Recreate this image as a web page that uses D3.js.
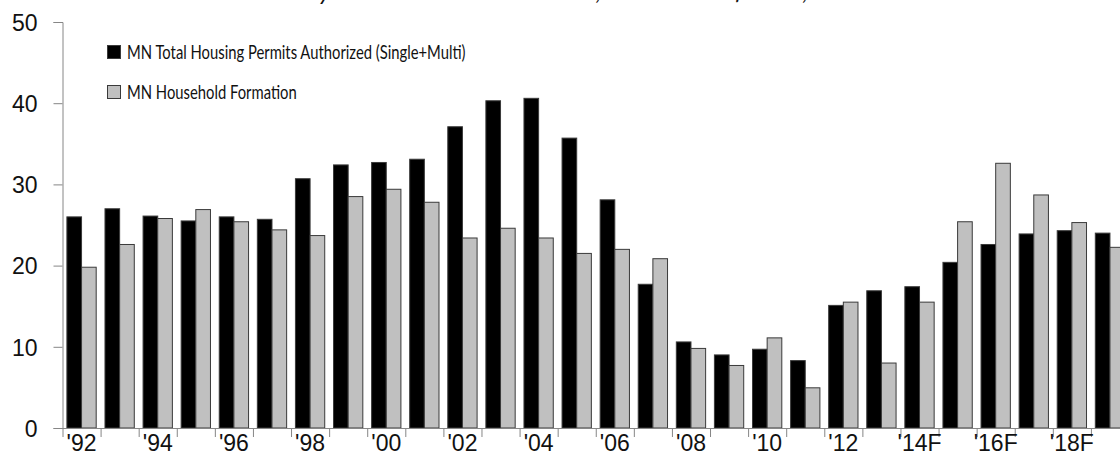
<!DOCTYPE html>
<html>
<head>
<meta charset="utf-8">
<script src="https://cdn.jsdelivr.net/npm/d3@7"></script>
<style>
  html, body { margin: 0; padding: 0; background: #fff; overflow: hidden; }
  svg { display: block; font-family: Lato, "Open Sans", sans-serif; }
  .axis path, .axis line { stroke: #868686; }
  .axis text { fill: #111; font-size: 23px; }
</style>
</head>
<body>
<div id="chart"></div>
<script>
// years 1992..2019, forecast from 2014 on
var years = ['1992','1993','1994','1995','1996','1997','1998','1999','2000','2001',
  '2002','2003','2004','2005','2006','2007','2008','2009','2010','2011',
  '2012','2013','2014','2015','2016','2017','2018','2019'];
var tickLabels = ["'92","","'94","","'96","","'98","","'00","",
  "'02","","'04","","'06","","'08","","'10","",
  "'12","","'14F","","'16F","","'18F",""];
var permits = [26.0, 27.0, 26.1, 25.5, 26.0, 25.7, 30.7, 32.4, 32.7, 33.1,
  37.1, 40.3, 40.6, 35.7, 28.1, 17.7, 10.6, 9.0, 9.7, 8.3,
  15.1, 16.9, 17.4, 20.4, 22.6, 23.9, 24.3, 24.0];
var households = [19.8, 22.6, 25.8, 26.9, 25.4, 24.4, 23.7, 28.5, 29.4, 27.8,
  23.4, 24.6, 23.4, 21.5, 22.0, 20.85, 9.8, 7.7, 11.1, 4.95,
  15.5, 8.0, 15.5, 25.4, 32.6, 28.7, 25.3, 22.25];
var seriesNames = ['MN Total Housing Permits Authorized (Single+Multi)', 'MN Household Formation'];
var seriesColors = ['#000000', '#c0c0c0'];
var yTicks = [0, 10, 20, 30, 40, 50];
var titleText = 'History and 2014-2019 Forecast, Thousands of Units, Minnesota';

var width = 1120, height = 473;
var margin = { top: 22, right: -9, bottom: 45, left: 62.5 };

var svg = d3.select('#chart').append('svg')
  .attr('width', width)
  .attr('height', height);

// stretch/squeeze Lato so it runs as wide as the original Calibri
function condense(sel, factor) {
  sel.each(function() {
    var len = this.getComputedTextLength();
    d3.select(this).attr('textLength', len * factor).attr('lengthAdjust', 'spacingAndGlyphs');
  });
}

var x0 = d3.scaleBand()
  .domain(years)
  .range([margin.left, width - margin.right])
  .paddingInner(0).paddingOuter(0);

var x1 = d3.scaleBand()
  .domain([0, 1])
  .range([0, x0.bandwidth()])
  .paddingInner(0).paddingOuter(0.3);

var xIdx = d3.scaleLinear()
  .domain([0, years.length])
  .range(x0.range());

var y = d3.scaleLinear()
  .domain([0, 50])
  .range([height - margin.bottom, margin.top]);

// title, mostly above the visible area as in the source image
svg.append('text')
  .attr('x', 589)
  .attr('y', -0.5)
  .attr('text-anchor', 'middle')
  .style('font-style', 'italic')
  .attr('font-size', 22)
  .attr('fill', '#111')
  .text(titleText)
  .call(condense, 1.12);

// bars
var rows = years.map(function(yr, i) { return { year: yr, vals: [permits[i], households[i]] }; });

var groups = svg.append('g').selectAll('g')
  .data(rows)
  .enter().append('g')
  .attr('transform', function(d) { return 'translate(' + x0(d.year) + ',0)'; });

groups.selectAll('rect')
  .data(function(d) { return d.vals.map(function(v, k) { return { k: k, v: v }; }); })
  .enter().append('rect')
  .attr('x', function(d) { return x1(d.k); })
  .attr('width', x1.bandwidth())
  .attr('y', function(d) { return y(d.v); })
  .attr('height', function(d) { return y(0) - y(d.v); })
  .attr('fill', function(d) { return seriesColors[d.k]; })
  .attr('stroke', '#3a3a3a')
  .attr('stroke-width', 1);

// y axis
svg.append('g')
  .attr('class', 'axis')
  .attr('transform', 'translate(' + margin.left + ',0)')
  .call(d3.axisLeft(y).tickValues(yTicks).tickSize(9).tickSizeOuter(9).tickPadding(16))
  .call(function(g) { g.selectAll('text').attr('dy', '0.36em'); });

// x axis: ticks on category boundaries
svg.append('g')
  .attr('class', 'axis')
  .attr('transform', 'translate(0,' + y(0) + ')')
  .call(d3.axisBottom(xIdx).tickValues(d3.range(0, years.length + 1)).tickSize(9).tickSizeOuter(0).tickFormat(''));

// x labels at category centres
svg.append('g')
  .attr('class', 'axis')
  .attr('transform', 'translate(0,' + y(0) + ')')
  .call(d3.axisBottom(x0).tickSize(0).tickPadding(7).tickFormat(function(d, i) { return tickLabels[i]; }))
  .call(function(g) { g.select('.domain').remove(); });

// legend
var legend = svg.append('g').attr('transform', 'translate(107,45)');
seriesNames.forEach(function(name, i) {
  var row = legend.append('g').attr('transform', 'translate(0,' + (i * 40) + ')');
  row.append('rect')
    .attr('x', 0.5).attr('y', 0.5)
    .attr('width', 13).attr('height', 13)
    .attr('fill', seriesColors[i])
    .attr('stroke', '#3a3a3a');
  row.append('text')
    .attr('x', 20)
    .attr('y', 7)
    .attr('dy', '0.36em')
    .attr('font-size', 20)
    .attr('fill', '#111')
    .text(name)
    .call(condense, 0.74);
});
</script>
</body>
</html>
